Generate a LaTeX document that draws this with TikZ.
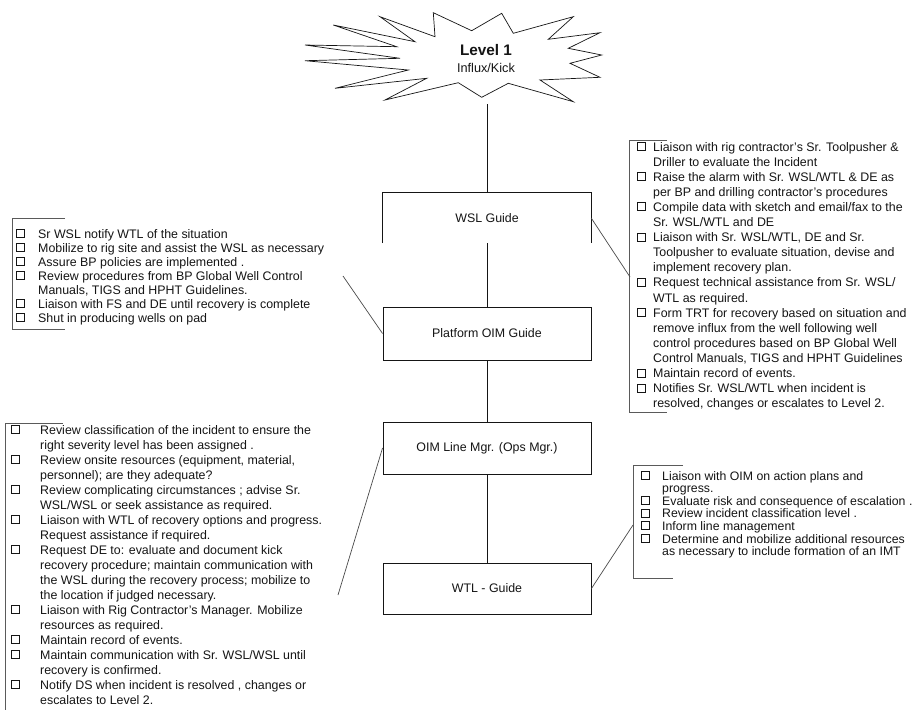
\documentclass[tikz,border=0pt]{standalone}
\usepackage{fontspec}
\setmainfont{Liberation Sans}
\definecolor{ink}{HTML}{151515}
\definecolor{linkgray}{HTML}{4A4A4A}
\definecolor{bracketgray}{HTML}{5A5A5A}
\begin{document}
\begin{tikzpicture}[x=1pt,y=-1pt,
  guide/.style={minimum width=208pt,minimum height=52pt,inner sep=0pt,
    font=\fontsize{12.4}{14}\selectfont,text=ink},
  frame/.style={draw=ink,line width=0.9pt},
  spine/.style={draw=ink,line width=0.8pt},
  link/.style={draw=linkgray,line width=0.7pt},
  burst/.style={draw=ink,line width=0.7pt,line join=miter},
  listtext/.style={anchor=base west,inner sep=0pt,
    font=\fontsize{12.4}{14}\selectfont,text=ink},
  smalltext/.style={listtext,font=\fontsize{12.3}{12}\selectfont},
  chk/.style={draw=ink,line width=1pt,minimum size=8pt,inner sep=0pt},
  bracket/.style={draw=bracketgray,line width=0.8pt}]

\useasboundingbox (0,0) rectangle (919,710);
\fill[white] (0,0) rectangle (919,710);

% ---- starburst: Level 1 ----
\draw[burst] (433.3,12.7) -- (471.7,30.7) -- (501.7,13.3) -- (513.3,33.3)
  -- (573.3,16.7) -- (548.3,39.3) -- (600,32.7) -- (568.3,48.3)
  -- (601.7,55) -- (570,63.3) -- (600,77.3) -- (540,80)
  -- (573.3,101.7) -- (508.3,83.3) -- (481.7,97.3) -- (458.3,82.7)
  -- (385,100) -- (426.7,78.3) -- (335,88.3) -- (408.3,70)
  -- (305,60.7) -- (400,58.3) -- (305,45) -- (396.7,46.7)
  -- (333.3,25) -- (415,41.7) -- (380,16.7) -- (435,36.7) -- cycle;
\node[anchor=base,inner sep=0pt,text=ink,font=\bfseries\fontsize{15.3}{18}\selectfont]
  (lvl) at (486,55.5) {Level 1};
\node[anchor=base,inner sep=0pt,text=ink,font=\fontsize{12.7}{15}\selectfont]
  (kick) at (486,72.5) {Influx/Kick};
\coordinate (burstfoot) at (487,104);

% ---- guide boxes ----
\node[guide,minimum height=50pt] (wsl) at (487,218) {WSL Guide};
\draw[frame] (wsl.south west) |- (wsl.north east) -- (wsl.south east);
\node[guide,frame,minimum height=53pt] (plat) at (487,333.5) {Platform OIM Guide};
\node[guide,frame,minimum height=52pt] (oim) at (487,448) {OIM Line Mgr. (Ops Mgr.)};
\node[guide,frame,minimum height=51pt] (wtl) at (487,588.5) {WTL - Guide};

\draw[spine] (burstfoot) -- (wsl.north);
\draw[spine] (wsl.south) -- (plat.north);
\draw[spine] (plat.south) -- (oim.north);
\draw[spine] (oim.south) -- (wtl.north);

% ---- Platform OIM duties ----
\draw[bracket] (65,218) -- (12,218) -- (12,329) -- (65,329);
\foreach [count=\i from 0] \txt/\cb in {
  {Sr WSL notify WTL of the situation}/1,
  {Mobilize to rig site and assist the WSL as necessary}/1,
  {Assure BP policies are implemented .}/1,
  {Review procedures from BP Global Well Control}/1,
  {Manuals, TIGS and HPHT Guidelines.}/0,
  {Liaison with FS and DE until recovery is complete}/1,
  {Shut in producing wells on pad}/1}{
  \node[listtext] (pl\i) at (38,238+14*\i) {\txt};
  \ifnum\cb=1 \node[chk] (plb\i) at (20,233.5+14*\i) {};\fi
}
\coordinate (plEnd) at (343,276);
\draw[link] (plEnd) -- (plat.west);

% ---- WSL duties ----
\draw[bracket] (667,140) -- (629,140) -- (629,412) -- (667,412);
\foreach [count=\i from 0] \txt/\cb in {
  {Liaison with rig contractor's Sr. Toolpusher  \&}/1,
  {Driller to evaluate the Incident}/0,
  {Raise the alarm with Sr. WSL/WTL \& DE as}/1,
  {per BP and drilling contractor's procedures}/0,
  {Compile data with sketch and email/fax to the}/1,
  {Sr. WSL/WTL and DE}/0,
  {Liaison with Sr. WSL/WTL, DE and Sr.}/1,
  {Toolpusher to evaluate situation, devise and}/0,
  {implement recovery plan.}/0,
  {Request technical assistance from Sr. WSL/}/1,
  {WTL as required.}/0,
  {Form TRT for recovery based on situation and}/1,
  {remove influx from the well following well}/0,
  {control procedures based on BP Global Well}/0,
  {Control Manuals, TIGS and HPHT Guidelines}/0,
  {Maintain record of events.}/1,
  {Notifies Sr. WSL/WTL when incident is}/1,
  {resolved, changes or escalates to Level 2.}/0}{
  \node[listtext] (ws\i) at (653,151+15.1*\i) {\txt};
  \ifnum\cb=1 \node[chk] (wsb\i) at (641,146.5+15.1*\i) {};\fi
}
\coordinate (wsEnd) at (630,277);
\draw[link] (wsl.east) -- (wsEnd);

% ---- OIM Line Mgr. duties ----
\draw[bracket] (63,423) -- (5,423) -- (5,710);
\foreach [count=\i from 0] \txt/\cb in {
  {Review classification of the incident to ensure the}/1,
  {right severity level has been assigned .}/0,
  {Review onsite resources (equipment, material,}/1,
  {personnel); are they adequate?}/0,
  {Review complicating circumstances ; advise Sr.}/1,
  {WSL/WSL or seek assistance as required.}/0,
  {Liaison with WTL of recovery options and progress.}/1,
  {Request assistance if required.}/0,
  {Request DE to:  evaluate and document kick}/1,
  {recovery procedure; maintain communication with}/0,
  {the WSL during the recovery process; mobilize to}/0,
  {the location if judged necessary.}/0,
  {Liaison with Rig Contractor's Manager.  Mobilize}/1,
  {resources as required.}/0,
  {Maintain record of events.}/1,
  {Maintain communication with Sr. WSL/WSL until}/1,
  {recovery is confirmed.}/0,
  {Notify DS when incident is resolved , changes or}/1,
  {escalates to Level 2.}/0}{
  \node[listtext] (om\i) at (40,434+15*\i) {\txt};
  \ifnum\cb=1 \node[chk] (omb\i) at (15,429.5+15*\i) {};\fi
}
\coordinate (omEnd) at (338,595);
\draw[link] (oim.west) -- (omEnd);

% ---- WTL duties ----
\draw[bracket] (683,465) -- (633,465) -- (633,578) -- (673,578);
\foreach [count=\i from 0] \txt/\cb in {
  {Liaison with OIM on action plans and}/1,
  {progress.}/0,
  {Evaluate risk and consequence of escalation .}/1,
  {Review incident classification level .}/1,
  {Inform line management}/1,
  {Determine and mobilize additional resources}/1,
  {as necessary to include formation of an IMT}/0}{
  \node[smalltext] (wt\i) at (662,480+12.6*\i) {\txt};
  \ifnum\cb=1 \node[chk] (wtb\i) at (645,475.5+12.6*\i) {};\fi
}
\coordinate (wtEnd) at (633,525);
\draw[link] (wtl.east) -- (wtEnd);

\end{tikzpicture}
\end{document}
